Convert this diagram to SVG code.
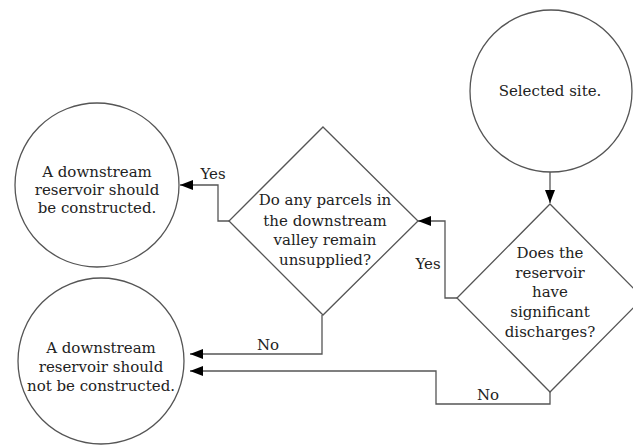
<svg xmlns="http://www.w3.org/2000/svg" width="633" height="445" viewBox="0 0 633 445">
<defs>
<marker id="ah" markerUnits="userSpaceOnUse" markerWidth="14" markerHeight="10" refX="13" refY="5" orient="auto">
<path d="M0,0 L13,5 L0,10 z" fill="#000"/>
</marker>
<style>
.shape{fill:#fff;stroke:#555;stroke-width:1.3}
.conn{fill:none;stroke:#555;stroke-width:1.3;marker-end:url(#ah)}
text{font-family:"DejaVu Serif","Liberation Serif",serif;font-size:15px;fill:#222;text-anchor:middle}
</style>
</defs>
<rect width="633" height="445" fill="#fff"/>
<g id="connectors">
<path class="conn" d="M550,172 V203"/>
<path class="conn" d="M457,298 H445 V221 H418"/>
<path class="conn" d="M550,392 V404 H436 V371 H190"/>
<path class="conn" d="M229,221 H218 V185 H180"/>
<path class="conn" d="M322,315 V354 H190"/>
<text x="428" y="269">Yes</text>
<text x="488" y="400">No</text>
<text x="213" y="179">Yes</text>
<text x="268" y="350">No</text>
</g>
<g id="selected-site">
<circle class="shape" cx="551" cy="91" r="81"/>
<text x="550" y="96">Selected site.</text>
</g>
<g id="discharges">
<polygon class="shape" points="550,204 643,298 550,392 457,298"/>
<text x="550" y="258">Does the</text>
<text x="550" y="278">reservoir</text>
<text x="550" y="297">have</text>
<text x="550" y="317">significant</text>
<text x="550" y="337">discharges?</text>
</g>
<g id="unsupplied">
<polygon class="shape" points="323,127 418,221 323,315 229,221"/>
<text x="325" y="205">Do any parcels in</text>
<text x="325" y="226">the downstream</text>
<text x="325" y="245">valley remain</text>
<text x="325" y="265">unsupplied?</text>
</g>
<g id="construct">
<circle class="shape" cx="97" cy="185" r="82"/>
<text x="97" y="177">A downstream</text>
<text x="97" y="195">reservoir should</text>
<text x="97" y="213">be constructed.</text>
</g>
<g id="not-construct">
<circle class="shape" cx="101" cy="361" r="83"/>
<text x="101" y="353">A downstream</text>
<text x="101" y="372">reservoir should</text>
<text x="101" y="391">not be constructed.</text>
</g>
</svg>
